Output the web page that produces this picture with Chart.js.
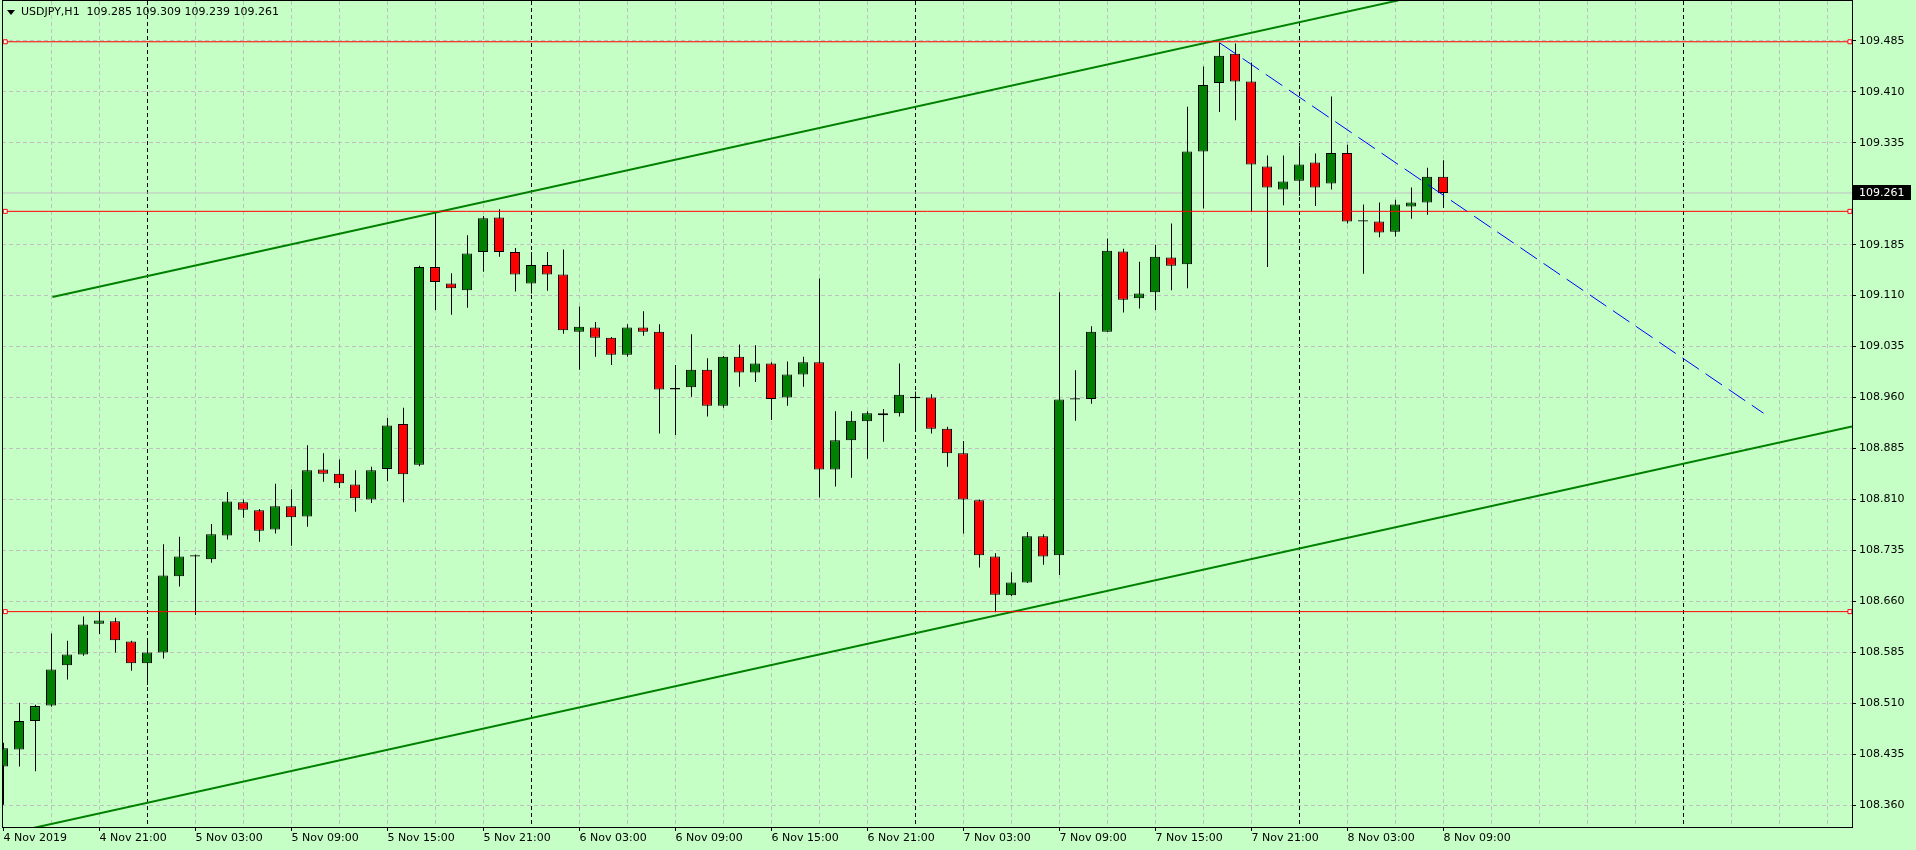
<!DOCTYPE html>
<html>
<head>
<meta charset="utf-8">
<script src="https://cdn.jsdelivr.net/npm/chart.js@4.4.0/dist/chart.umd.min.js"></script>
<style>
  html, body { margin: 0; padding: 0; background: #c6ffc6; }
  #wrap { width: 1916px; height: 850px; }
</style>
</head>
<body>
<div id="wrap"><canvas id="chart" width="1916" height="850"></canvas></div>
<script>
// USDJPY H1, 4 Nov 15:00 .. 8 Nov 09:00 (one entry per bar)
const symbol = 'USDJPY,H1';
const opens = [
  108.417, 108.442, 108.484, 108.507, 108.566, 108.582, 108.627, 108.631, 108.601, 108.569,
  108.585, 108.697, 108.726, 108.722, 108.757, 108.806, 108.794, 108.766, 108.800, 108.785,
  108.854, 108.848, 108.832, 108.810, 108.855, 108.921, 108.861, 109.152, 109.128, 109.118,
  109.174, 109.225, 109.174, 109.128, 109.155, 109.141, 109.057, 109.063, 109.048, 109.023,
  109.063, 109.057, 108.972, 108.975, 109.001, 108.948, 109.020, 108.997, 109.010, 108.960,
  108.994, 109.012, 108.854, 108.897, 108.925, 108.937, 108.937, 108.961, 108.960, 108.914,
  108.878, 108.809, 108.726, 108.669, 108.688, 108.756, 108.728, 108.957, 108.958, 109.057,
  109.175, 109.106, 109.115, 109.166, 109.156, 109.322, 109.423, 109.466, 109.425, 109.300,
  109.266, 109.279, 109.306, 109.275, 109.320, 109.219, 109.219, 109.204, 109.241, 109.247,
  109.285
];
const highs = [
  108.452, 108.511, 108.508, 108.613, 108.602, 108.638, 108.645, 108.636, 108.602, 108.606,
  108.744, 108.755, 108.729, 108.774, 108.821, 108.810, 108.796, 108.833, 108.825, 108.890,
  108.878, 108.869, 108.853, 108.858, 108.930, 108.945, 109.154, 109.233, 109.143, 109.199,
  109.227, 109.237, 109.180, 109.174, 109.174, 109.178, 109.094, 109.071, 109.049, 109.068,
  109.087, 109.068, 109.008, 109.053, 109.018, 109.021, 109.038, 109.037, 109.012, 109.013,
  109.020, 109.135, 108.940, 108.940, 108.940, 108.943, 109.010, 108.969, 108.965, 108.917,
  108.896, 108.810, 108.731, 108.703, 108.762, 108.759, 109.115, 109.000, 109.065, 109.194,
  109.179, 109.160, 109.185, 109.216, 109.388, 109.447, 109.482, 109.481, 109.453, 109.316,
  109.316, 109.331, 109.319, 109.403, 109.332, 109.244, 109.247, 109.251, 109.269, 109.298,
  109.309
];
const lows = [
  108.361, 108.417, 108.410, 108.505, 108.545, 108.580, 108.612, 108.585, 108.558, 108.537,
  108.576, 108.682, 108.640, 108.717, 108.751, 108.783, 108.748, 108.760, 108.742, 108.770,
  108.836, 108.827, 108.792, 108.805, 108.837, 108.806, 108.859, 109.089, 109.082, 109.092,
  109.145, 109.167, 109.116, 109.113, 109.117, 109.054, 109.001, 109.020, 109.008, 109.020,
  109.051, 108.907, 108.905, 108.961, 108.932, 108.945, 108.976, 108.983, 108.927, 108.948,
  108.976, 108.813, 108.829, 108.842, 108.870, 108.895, 108.932, 108.911, 108.907, 108.858,
  108.760, 108.710, 108.644, 108.668, 108.687, 108.714, 108.699, 108.926, 108.951, 109.057,
  109.085, 109.091, 109.089, 109.118, 109.121, 109.238, 109.380, 109.368, 109.233, 109.152,
  109.243, 109.257, 109.242, 109.266, 109.216, 109.142, 109.196, 109.197, 109.223, 109.229,
  109.239
];
const closes = [
  108.444, 108.484, 108.506, 108.560, 108.582, 108.626, 108.632, 108.603, 108.569, 108.585,
  108.698, 108.726, 108.728, 108.759, 108.807, 108.795, 108.764, 108.800, 108.784, 108.853,
  108.848, 108.834, 108.812, 108.853, 108.919, 108.847, 109.152, 109.130, 109.121, 109.172,
  109.224, 109.174, 109.141, 109.155, 109.141, 109.059, 109.064, 109.048, 109.023, 109.063,
  109.057, 108.972, 108.974, 109.001, 108.948, 109.020, 108.997, 109.010, 108.958, 108.994,
  109.012, 108.854, 108.897, 108.926, 108.937, 108.934, 108.964, 108.959, 108.914, 108.878,
  108.810, 108.728, 108.670, 108.688, 108.756, 108.726, 108.957, 108.959, 109.057, 109.176,
  109.104, 109.113, 109.167, 109.154, 109.322, 109.420, 109.463, 109.425, 109.303, 109.269,
  109.278, 109.303, 109.269, 109.320, 109.219, 109.221, 109.203, 109.244, 109.247, 109.285,
  109.261
];

// time axis labels, one every 6 bars starting at bar 0
const timeLabels = [
  '4 Nov 2019', '4 Nov 21:00', '5 Nov 03:00', '5 Nov 09:00', '5 Nov 15:00', '5 Nov 21:00',
  '6 Nov 03:00', '6 Nov 09:00', '6 Nov 15:00', '6 Nov 21:00', '7 Nov 03:00', '7 Nov 09:00',
  '7 Nov 15:00', '7 Nov 21:00', '8 Nov 03:00', '8 Nov 09:00'
];
const daySeparators = [9, 33, 57, 81, 105]; // bars at 00:00
const priceTicks = [
  108.360, 108.435, 108.510, 108.585, 108.660, 108.735, 108.810, 108.885,
  108.960, 109.035, 109.110, 109.185, 109.335, 109.410, 109.485
];

// drawn objects (bar index, price)
const redLevels = [109.4835, 109.234, 108.645];
const upperChannel = [[3.06, 109.108], [87.2, 109.5445]];
const lowerChannel = [[0, 108.317], [115.53, 108.9175]];
const blueTrend = [[76, 109.482], [110, 108.937]];

// view range
const xMin = -0.09375, xMax = 115.53125;
const yMin = 108.3281, yMax = 109.5435;

const bg = '#c6ffc6';
const n = opens.length;
const idx = opens.map((_, i) => i);
const bodyShift = -0.5 / 16;

const wickData = idx.map(i => ({ x: i, y: [lows[i], highs[i]] }));
const bodyData = idx.map(i => ({ x: i + bodyShift, y: [opens[i], closes[i]] }));
const bodyColors = idx.map(i => closes[i] > opens[i] ? '#008000' : (closes[i] < opens[i] ? '#ff0000' : '#000000'));

function segment(points, color, width, dash, order) {
  return {
    type: 'line',
    data: points.map(p => ({ x: p[0], y: p[1] })),
    borderColor: color,
    borderWidth: width,
    borderDash: dash || [],
    pointRadius: 0,
    fill: false,
    tension: 0,
    clip: 0,
    order: order
  };
}

const levelSets = redLevels.map(v => ({
  type: 'line',
  data: [{ x: xMin, y: v }, { x: 0.11, y: v }, { x: 115.4, y: v }, { x: xMax, y: v }],
  borderColor: '#ff0000',
  borderWidth: 1,
  pointStyle: 'rect',
  pointRadius: c => (c.dataIndex === 1 || c.dataIndex === 2) ? 2.8 : 0,
  pointBackgroundColor: '#ffffff',
  pointBorderColor: '#ff0000',
  pointBorderWidth: 1,
  fill: false,
  clip: 0,
  order: 0
}));

const frame = {
  id: 'frame',
  beforeDraw(chart) {
    const ctx = chart.ctx;
    ctx.save();
    ctx.fillStyle = bg;
    ctx.fillRect(0, 0, chart.width, chart.height);
    ctx.restore();
  },
  afterDraw(chart) {
    const ctx = chart.ctx;
    const a = chart.chartArea;
    ctx.save();
    ctx.strokeStyle = '#000';
    ctx.lineWidth = 1;
    ctx.strokeRect(Math.round(a.left) + 0.5, Math.round(a.top) - 0.5, Math.round(a.right - a.left), Math.round(a.bottom - a.top) + 1);

    // title
    ctx.fillStyle = '#000';
    ctx.beginPath();
    ctx.moveTo(7, 10); ctx.lineTo(15, 10); ctx.lineTo(11, 15); ctx.closePath();
    ctx.fill();
    ctx.font = '11px "DejaVu Sans"';
    ctx.textBaseline = 'middle';
    const last = n - 1;
    ctx.fillText(symbol + '  ' + [opens[last], highs[last], lows[last], closes[last]].map(v => v.toFixed(3)).join(' '), 21, 12.5);

    // current price box
    const y = chart.scales.y.getPixelForValue(closes[last]);
    ctx.fillStyle = '#000';
    ctx.fillRect(a.right + 1, Math.round(y) - 8, 58, 15);
    ctx.fillStyle = '#ffffff';
    ctx.fillText(closes[last].toFixed(3), a.right + 7, Math.round(y));
    ctx.restore();
  }
};

new Chart(document.getElementById('chart').getContext('2d'), {
  type: 'bar',
  data: {
    datasets: [
      ...levelSets,
      segment(upperChannel, '#008000', 2, [], 0),
      segment(lowerChannel, '#008000', 2, [], 0),
      segment(blueTrend, '#0000ff', 1, [20, 8], 0),
      segment([[xMin, closes[n - 1]], [xMax, closes[n - 1]]], '#c0c0c0', 1, [], 3),
      {
        type: 'bar',
        data: bodyData,
        backgroundColor: bodyColors,
        borderColor: '#000',
        borderWidth: 1,
        borderSkipped: false,
        inflateAmount: 0,
        barThickness: 10,
        grouped: false,
        order: 1
      },
      {
        type: 'bar',
        data: wickData,
        backgroundColor: '#000',
        borderWidth: 0,
        inflateAmount: 0,
        barThickness: 1,
        grouped: false,
        order: 2
      }
    ]
  },
  options: {
    responsive: false,
    animation: false,
    events: [],
    layout: { padding: { left: 2, top: 1, right: 0, bottom: 0 } },
    plugins: { legend: { display: false }, tooltip: { enabled: false } },
    scales: {
      x: {
        type: 'linear',
        min: xMin,
        max: xMax,
        offset: false,
        afterBuildTicks: s => {
          const t = [];
          for (let v = 0; v <= 114; v += 3) t.push({ value: v });
          s.ticks = t;
        },
        afterFit: s => { s.height = 23; s.paddingLeft = 0; s.paddingRight = 0; },
        ticks: {
          autoSkip: false,
          maxRotation: 0,
          minRotation: 0,
          align: 'start',
          padding: 1,
          color: '#000',
          font: { family: 'DejaVu Sans', size: 11 },
          callback: v => (v % 6 === 0 && v / 6 < timeLabels.length) ? timeLabels[v / 6] : ''
        },
        grid: {
          offset: false,
          color: c => daySeparators.includes(c.tick.value) ? '#000000' : (c.tick.value === 0 ? 'rgba(0,0,0,0)' : '#c0c0c0'),
          lineWidth: 1,
          drawTicks: true,
          tickLength: 4,
          tickWidth: 1,
          tickColor: c => (c.tick.value % 6 === 0 && c.tick.value / 6 < timeLabels.length) ? '#000000' : 'rgba(0,0,0,0)'
        },
        border: { display: false, dash: [4, 3] }
      },
      y: {
        type: 'linear',
        position: 'right',
        min: yMin,
        max: yMax,
        afterBuildTicks: s => { s.ticks = priceTicks.map(v => ({ value: v })); },
        afterFit: s => { s.width = 64; s.paddingTop = 0; s.paddingBottom = 0; },
        ticks: {
          padding: 3,
          color: '#000',
          font: { family: 'DejaVu Sans', size: 11 },
          callback: v => v.toFixed(3)
        },
        grid: {
          color: '#c0c0c0',
          lineWidth: 1,
          drawTicks: true,
          tickLength: 4,
          tickColor: '#000000'
        },
        border: { display: false, dash: [4, 3] }
      }
    }
  },
  plugins: [frame]
});
</script>
</body>
</html>
